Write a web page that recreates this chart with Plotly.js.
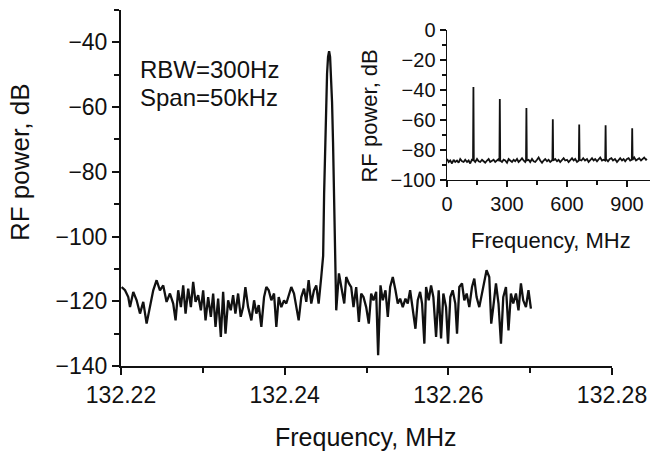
<!DOCTYPE html>
<html><head><meta charset="utf-8">
<script src="https://cdn.plot.ly/plotly-3.0.1.min.js"></script>
<style>html,body{margin:0;padding:0;background:#fff;}#chart{width:652px;height:451px;}</style>
</head><body><div id="chart"></div>
<script>
// Main spectrum (Span 50 kHz around 132.245 MHz)
const mainFreqLeft = [132.22008,132.22049,132.22089,132.22110,132.22150,132.22191,132.22232,132.22272,132.22313,132.22354,
132.22394,132.22435,132.22476,132.22516,132.22557,132.22598,132.22638,132.22667,132.22699,132.22732,
132.22760,132.22789,132.22821,132.22854,132.22882,132.22911,132.22943,132.22976,132.23004,132.23033,
132.23065,132.23098,132.23126,132.23155,132.23187,132.23220,132.23248,132.23277,132.23309,132.23341,
132.23370,132.23398,132.23431,132.23463,132.23492,132.23520,132.23553,132.23593,132.23626,132.23654,
132.23683,132.23715,132.23748,132.23776,132.23805,132.23837,132.23870,132.23898,132.23927,132.23959,
132.23992,132.24020,132.24049,132.24081,132.24114,132.24142,132.24171,132.24203,132.24236,132.24264,
132.24293,132.24325,132.24358,132.24386,132.24415,132.24447];
const mainPowerLeft = [-115.6,-116.6,-118.7,-121.8,-117.1,-119.7,-123.8,-120.2,-126.9,-121.8,
-116.6,-113.5,-116.6,-115.1,-120.2,-117.6,-120.7,-125.9,-116.6,-121.8,
-115.1,-123.8,-116.1,-121.8,-114.0,-120.2,-118.1,-122.8,-116.6,-125.9,
-118.7,-124.8,-117.6,-127.9,-119.2,-131.0,-117.1,-130.0,-119.7,-122.8,
-118.1,-123.8,-117.6,-124.8,-121.8,-115.6,-121.8,-125.9,-119.7,-123.8,
-121.2,-127.9,-118.7,-115.6,-116.6,-119.7,-117.6,-127.9,-118.7,-121.8,
-119.7,-120.7,-118.1,-115.6,-117.6,-121.8,-125.9,-118.7,-116.1,-120.2,
-113.5,-120.7,-116.6,-115.1,-120.7,-112.5];
const peakFreq = [132.24470,132.24482,132.24494,132.24506,132.24518,132.24530,132.24543,132.24555,132.24567,132.24579,132.24591,132.24604,132.24616];
const peakPower = [-106,-86.7,-70.9,-58.5,-49.7,-44.5,-42.7,-44.5,-49.7,-58.5,-70.9,-86.7,-106];
const mainFreqRight = [132.24630,132.24663,132.24695,132.24728,132.24752,132.24785,132.24813,132.24841,132.24874,132.24907,
132.24935,132.24963,132.24996,132.25028,132.25057,132.25085,132.25118,132.25142,132.25171,132.25199,
132.25232,132.25260,132.25289,132.25321,132.25354,132.25382,132.25411,132.25443,132.25476,132.25504,
132.25533,132.25565,132.25598,132.25626,132.25655,132.25679,132.25707,132.25728,132.25760,132.25789,
132.25817,132.25850,132.25882,132.25911,132.25939,132.25972,132.25996,132.26024,132.26053,132.26085,
132.26106,132.26134,132.26167,132.26195,132.26224,132.26256,132.26289,132.26317,132.26345,132.26378,
132.26411,132.26439,132.26467,132.26500,132.26524,132.26549,132.26582,132.26613,132.26643,132.26671,
132.26704,132.26735,132.26765,132.26793,132.26826,132.26857,132.26887,132.26915,132.26948,132.26979,
132.27009];
const mainPowerRight = [-122.8,-111.4,-115.6,-120.7,-112.5,-114.5,-115.6,-121.8,-115.6,-126.4,
-117.6,-118.7,-121.8,-126.9,-117.6,-119.7,-117.1,-136.7,-115.1,-119.7,
-116.6,-124.8,-115.6,-112.5,-116.6,-120.7,-119.2,-121.8,-119.2,-120.7,
-116.6,-121.8,-128.5,-119.7,-117.1,-120.7,-133.1,-115.6,-119.7,-115.1,
-118.7,-131.0,-116.6,-131.5,-117.6,-121.8,-133.1,-118.7,-116.6,-120.7,
-130.0,-115.6,-114.5,-119.7,-117.6,-121.8,-115.6,-113.0,-118.7,-121.8,
-117.6,-114.5,-110.4,-112.5,-126.9,-121.8,-114.5,-120.7,-133.1,-118.7,
-115.6,-129.0,-117.6,-120.7,-117.6,-122.8,-114.5,-119.7,-121.8,-116.6,
-122.3];

// Inset: wide span spectrum with harmonics
const insetFreq = [0,8,16,25,33,41,50,58,66,75,83,91,100,108,116,124,130,132,134,141,
150,158,166,175,183,191,200,208,216,225,233,241,250,258,262,264,266,275,283,291,
300,308,316,325,333,341,350,358,366,375,383,391,395,397,399,408,416,425,433,441,
450,458,466,475,483,491,500,508,516,525,527,529,531,541,550,558,566,575,583,591,
600,608,616,625,633,641,650,659,661,663,672,681,690,700,708,716,725,733,741,750,
758,766,775,783,791,793,795,805,814,822,830,840,850,858,866,875,883,891,900,908,
916,924,926,928,936,945,953,961,970,978,986,995,1000];
const insetPower = [-86,-88,-87,-89,-86.5,-88,-87,-88.5,-86,-87.5,-88,-86.5,-88,-87,-89,-86.5,-87,-38,-87,-88,
-86,-87.5,-88,-86.5,-87.5,-88.5,-87,-86,-88,-87,-86.5,-88,-87,-86,-87.5,-46,-87,-88,-86.5,-87,
-88.5,-86,-87,-88,-86.5,-87.5,-86,-88,-87,-85.5,-87,-88,-87,-52,-87,-86.5,-88,-86,-87.5,-88,
-86.5,-85,-87,-88.5,-87,-86,-87.5,-86.5,-88,-87,-86,-59.5,-87,-86,-87.5,-86.5,-88,-87,-85.5,-87,
-86.5,-88,-87,-85.5,-87,-86,-88,-87,-63,-86.5,-87,-85.5,-87,-86,-88,-86.5,-85.5,-87,-86,-87.5,
-86,-85,-87,-86.5,-87,-63.5,-86,-87.5,-86,-85.5,-87,-86,-88,-86.5,-85.5,-87,-86,-87.5,-86,-85.5,
-87,-86.5,-65.5,-86.5,-85,-87,-86,-85.5,-87,-86,-85,-86.5,-86];

const mainXTicks = [132.22,132.24,132.26,132.28];
const mainXTickText = ['132.22','132.24','132.26','132.28'];
const mainXMinor = [132.23,132.25,132.27];
const mainYTicks = [-140,-120,-100,-80,-60,-40];
const mainYMinor = [-130,-110,-90,-70,-50,-30];
const insetXTicks = [0,300,600,900];
const insetXMinor = [150,450,750];
const insetYTicks = [-100,-80,-60,-40,-20,0];
const insetYMinor = [-90,-70,-50,-30,-10];

const mainFreq = mainFreqLeft.concat(peakFreq, mainFreqRight);
const mainPower = mainPowerLeft.concat(peakPower, mainPowerRight);

const ink = '#111';
const FONT = 'Liberation Sans, Arial, Helvetica, sans-serif';

const traces = [
  {x: mainFreq, y: mainPower, type:'scatter', mode:'lines', xaxis:'x', yaxis:'y',
   line:{color:ink, width:2.3}, hoverinfo:'skip'},
  {x: insetFreq, y: insetPower, type:'scatter', mode:'lines', xaxis:'x2', yaxis:'y2',
   line:{color:ink, width:1.8}, hoverinfo:'skip'}
];

function axisBase(extra){
  return Object.assign({showline:true, linecolor:ink, linewidth:2, showgrid:false, zeroline:false,
    ticks:'outside', tickcolor:ink, tickwidth:2, ticklen:7, tickmode:'array'}, extra);
}

const layout = {
  width:652, height:451,
  margin:{l:121, r:2, t:10, b:85},
  paper_bgcolor:'#fff', plot_bgcolor:'rgba(0,0,0,0)',
  showlegend:false,
  font:{family:FONT, color:ink},
  xaxis: axisBase({domain:[0,0.9282], range:[132.22,132.28], anchor:'y',
    tickvals:mainXTicks, ticktext:mainXTickText, tickfont:{size:23, family:FONT, color:ink},
    minor:{tickvals:mainXMinor, ticks:'outside', ticklen:5, tickwidth:2, tickcolor:ink}}),
  yaxis: axisBase({domain:[0,1], range:[-140,-30], anchor:'x',
    tickvals:mainYTicks, tickfont:{size:23, family:FONT, color:ink},
    minor:{tickvals:mainYMinor, ticks:'outside', ticklen:5, tickwidth:2, tickcolor:ink}}),
  xaxis2: axisBase({domain:[0.6163,1], range:[0,1015], anchor:'y2', linewidth:1.5, tickwidth:1.5, ticklen:6,
    tickvals:insetXTicks, tickfont:{size:20, family:FONT, color:ink},
    minor:{tickvals:insetXMinor, ticks:'outside', ticklen:4, tickwidth:1.5, tickcolor:ink}}),
  yaxis2: axisBase({domain:[0.5225,0.9438], range:[-100,0], anchor:'x2', linewidth:1.5, tickwidth:1.5, ticklen:6,
    tickvals:insetYTicks, tickfont:{size:20, family:FONT, color:ink},
    minor:{tickvals:insetYMinor, ticks:'outside', ticklen:4, tickwidth:1.5, tickcolor:ink}}),
  annotations:[
    {text:'RBW=300Hz', xref:'paper', yref:'paper', x:0.0321, y:0.8315, xanchor:'left', yanchor:'middle', showarrow:false, font:{size:24, family:FONT, color:ink}},
    {text:'Span=50kHz', xref:'paper', yref:'paper', x:0.0321, y:0.7556, xanchor:'left', yanchor:'middle', showarrow:false, font:{size:24, family:FONT, color:ink}},
    {text:'RF power, dB', xref:'paper', yref:'paper', x:-0.1909, y:0.573, xanchor:'center', yanchor:'middle', textangle:-90, showarrow:false, font:{size:26, family:FONT, color:ink}},
    {text:'Frequency, MHz', xref:'paper', yref:'paper', x:0.4631, y:-0.1994, xanchor:'center', yanchor:'middle', showarrow:false, font:{size:25, family:FONT, color:ink}},
    {text:'RF power, dB', xref:'paper', yref:'paper', x:0.4707, y:0.7008, xanchor:'center', yanchor:'middle', textangle:-90, showarrow:false, font:{size:22, family:FONT, color:ink}},
    {text:'Frequency, MHz', xref:'paper', yref:'paper', x:0.8129, y:0.3539, xanchor:'center', yanchor:'middle', showarrow:false, font:{size:22, family:FONT, color:ink}}
  ]
};

Plotly.newPlot('chart', traces, layout, {displayModeBar:false, staticPlot:true});
</script>
</body></html>
